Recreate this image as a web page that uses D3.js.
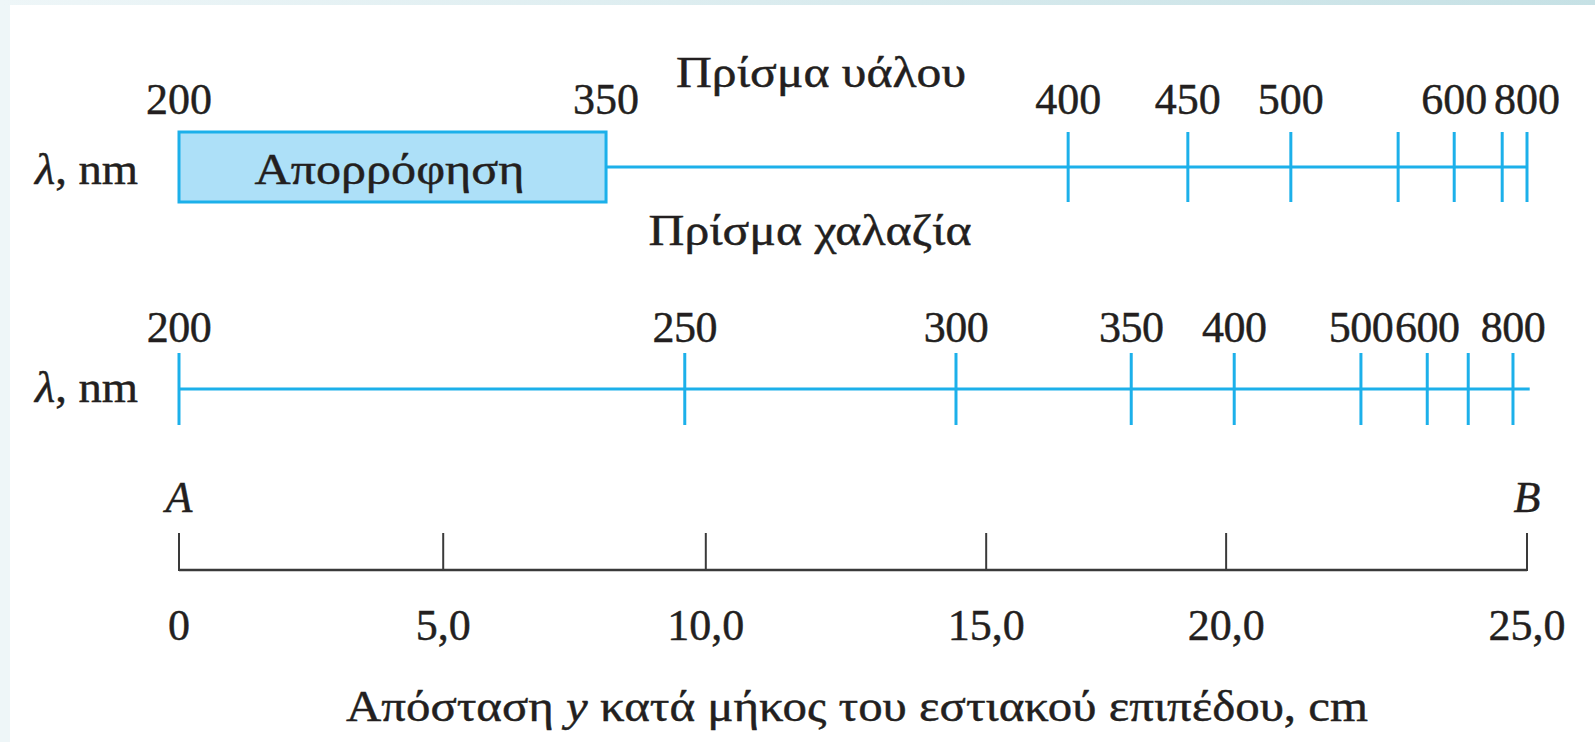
<!DOCTYPE html>
<html>
<head>
<meta charset="utf-8">
<script src="https://cdn.jsdelivr.net/npm/d3@7"></script>
<style>
  html, body { margin: 0; padding: 0; background: #ffffff; }
  svg { display: block; }
  text { font-family: "Liberation Serif", "DejaVu Serif", serif; fill: #231f20; stroke: #231f20; stroke-width: 0.45px; }
</style>
</head>
<body>
<svg id="chart" width="1595" height="742"></svg>
<script>
// ---- data (positions along the focal plane, in cm) ----
const glassTitle = "Πρίσμα υάλου";
const quartzTitle = "Πρίσμα χαλαζία";
const axisUnitLabel = "λ, nm";
const absorptionLabel = "Απορρόφηση";
const glassWavelengths = [200, 350, 400, 450, 500, 550, 600, 700, 800];
const glassLabels      = ["200", "350", "400", "450", "500", "", "600", "", "800"];
const glassPositions   = [0, 7.92, 16.49, 18.71, 20.62, 22.61, 23.65, 24.54, 25.0];
const absorptionRange  = [200, 350];
const quartzWavelengths = [200, 250, 300, 350, 400, 500, 600, 700, 800];
const quartzLabels      = ["200", "250", "300", "350", "400", "500", "600", "", "800"];
const quartzPositions   = [0, 9.38, 14.41, 17.66, 19.57, 21.92, 23.15, 23.91, 24.74];
const distanceValues    = [0, 5, 10, 15, 20, 25];
const distanceLabels    = ["0", "5,0", "10,0", "15,0", "20,0", "25,0"];
const distancePositions = [0, 4.90, 9.77, 14.97, 19.42, 25.0];
const endLabels = ["A", "B"];
const distanceTitle = ["Απόσταση ", "y", " κατά μήκος του εστιακού επιπέδου, cm"];

// ---- layout ----
const W = 1595, H = 742;
const svg = d3.select("#chart");
const blue = "#1cb0ea";
const boxFill = "#ade0f8";
const fs = 44;
const lw = 3;

const x = d3.scaleLinear().domain([0, 25]).range([179, 1527]);

// background frame
const defs = svg.append("defs");
const grad = defs.append("linearGradient").attr("id", "topgrad").attr("x1", 0).attr("x2", 1).attr("y1", 0).attr("y2", 0);
grad.append("stop").attr("offset", "0%").attr("stop-color", "#eef6f8");
grad.append("stop").attr("offset", "100%").attr("stop-color", "#c6e1e5");
svg.append("rect").attr("x", 0).attr("y", 0).attr("width", W).attr("height", H).attr("fill", "#ffffff");
svg.append("rect").attr("x", 0).attr("y", 0).attr("width", 10).attr("height", H).attr("fill", "#eef6f8");
svg.append("rect").attr("x", 0).attr("y", 0).attr("width", W).attr("height", 5).attr("fill", "url(#topgrad)");

// mapping wavelength -> position (cm) for each prism
const glassScale = d3.scaleLinear().domain(glassWavelengths).range(glassPositions);
const quartzScale = d3.scaleLinear().domain(quartzWavelengths).range(quartzPositions);

function unitLabel(yBase) {
  const t = svg.append("text").attr("x", 35).attr("y", yBase).attr("font-size", fs)
    .attr("textLength", 103).attr("lengthAdjust", "spacingAndGlyphs");
  t.append("tspan").attr("font-style", "italic").text(axisUnitLabel.slice(0, 1));
  t.append("tspan").text(axisUnitLabel.slice(1));
}

function fitText(cx, yBase, len, str) {
  return svg.append("text").attr("x", cx - len / 2).attr("y", yBase)
    .attr("font-size", fs).attr("textLength", len).attr("lengthAdjust", "spacingAndGlyphs")
    .text(str);
}

// ---------- Row 1: glass prism ----------
const r1 = { line: 167, half: 35, labelBase: 114 };
fitText(821, 87, 290, glassTitle);
unitLabel(184);

const bx0 = x(glassScale(absorptionRange[0])), bx1 = x(glassScale(absorptionRange[1]));
svg.append("line")
  .attr("x1", bx1).attr("x2", x(glassScale(d3.max(glassWavelengths))))
  .attr("y1", r1.line).attr("y2", r1.line)
  .attr("stroke", blue).attr("stroke-width", lw);
svg.append("rect")
  .attr("x", bx0).attr("y", r1.line - r1.half)
  .attr("width", bx1 - bx0).attr("height", 2 * r1.half)
  .attr("fill", boxFill).attr("stroke", blue).attr("stroke-width", lw);
fitText((bx0 + bx1) / 2 - 3, 184, 270, absorptionLabel);

const glassData = glassWavelengths.map((w, i) => ({ w, label: glassLabels[i] }));
svg.append("g").selectAll("line")
  .data(glassData.filter(d => d.w > absorptionRange[1]))
  .join("line")
  .attr("x1", d => x(glassScale(d.w))).attr("x2", d => x(glassScale(d.w)))
  .attr("y1", r1.line - r1.half).attr("y2", r1.line + r1.half)
  .attr("stroke", blue).attr("stroke-width", lw);
svg.append("g").selectAll("text")
  .data(glassData.filter(d => d.label !== ""))
  .join("text")
  .attr("x", d => x(glassScale(d.w))).attr("y", r1.labelBase)
  .attr("text-anchor", "middle").attr("font-size", fs)
  .text(d => d.label);

// ---------- Row 2: quartz prism ----------
const r2 = { line: 389, half: 36, labelBase: 342 };
fitText(810, 245, 323, quartzTitle);
unitLabel(402);

const quartzData = quartzWavelengths.map((w, i) => ({ w, label: quartzLabels[i] }));
svg.append("line")
  .attr("x1", x(quartzScale(quartzWavelengths[0]))).attr("x2", x(25.05))
  .attr("y1", r2.line).attr("y2", r2.line)
  .attr("stroke", blue).attr("stroke-width", lw);
svg.append("g").selectAll("line")
  .data(quartzData)
  .join("line")
  .attr("x1", d => x(quartzScale(d.w))).attr("x2", d => x(quartzScale(d.w)))
  .attr("y1", r2.line - r2.half).attr("y2", r2.line + r2.half)
  .attr("stroke", blue).attr("stroke-width", lw);
svg.append("g").selectAll("text")
  .data(quartzData.filter(d => d.label !== ""))
  .join("text")
  .attr("x", d => x(quartzScale(d.w))).attr("y", r2.labelBase)
  .attr("text-anchor", "middle").attr("font-size", fs)
  .attr("letter-spacing", -0.5)
  .text(d => d.label);

// ---------- Distance axis ----------
const r3 = { base: 570, tick: 37, labelBase: 640 };
const distData = distanceValues.map((v, i) => ({ v, label: distanceLabels[i], pos: distancePositions[i] }));
svg.append("line")
  .attr("x1", x(distancePositions[0])).attr("x2", x(distancePositions[distancePositions.length - 1]))
  .attr("y1", r3.base).attr("y2", r3.base)
  .attr("stroke", "#3a3a3a").attr("stroke-width", 2.6);
svg.append("g").selectAll("line")
  .data(distData)
  .join("line")
  .attr("x1", d => x(d.pos)).attr("x2", d => x(d.pos))
  .attr("y1", r3.base + 1).attr("y2", r3.base - r3.tick)
  .attr("stroke", "#3a3a3a").attr("stroke-width", 2);
svg.append("g").selectAll("text")
  .data(distData)
  .join("text")
  .attr("x", d => x(d.pos)).attr("y", r3.labelBase)
  .attr("text-anchor", "middle").attr("font-size", fs)
  .text(d => d.label);
svg.append("g").selectAll("text")
  .data([distancePositions[0], distancePositions[distancePositions.length - 1]].map((p, i) => ({ p, t: endLabels[i] })))
  .join("text")
  .attr("x", d => x(d.p)).attr("y", 512)
  .attr("text-anchor", "middle").attr("font-size", fs).attr("font-style", "italic")
  .text(d => d.t);

const title = svg.append("text").attr("x", 857 - 511).attr("y", 721)
  .attr("font-size", fs).attr("textLength", 1022).attr("lengthAdjust", "spacingAndGlyphs");
title.append("tspan").text(distanceTitle[0]);
title.append("tspan").attr("font-style", "italic").text(distanceTitle[1]);
title.append("tspan").text(distanceTitle[2]);
</script>
</body>
</html>
